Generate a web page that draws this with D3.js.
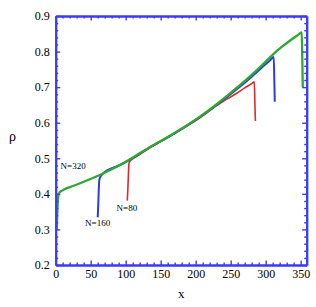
<!DOCTYPE html>
<html>
<head>
<meta charset="utf-8">
<script src="https://cdn.jsdelivr.net/npm/d3@7"></script>
<style>
  body { margin: 0; background: #fff; }
  svg text { font-family: "Times New Roman", "Liberation Serif", serif; }
</style>
</head>
<body>
<svg id="chart"></svg>
<script>
// ---- data ----
const xMajor = [0, 50, 100, 150, 200, 250, 300, 350];
const yMajor = [0.2, 0.3, 0.4, 0.5, 0.6, 0.7, 0.8, 0.9];

// N=320 (green)
const x320 = [1.4, 2.0, 2.8, 3.5, 4.2, 5.5, 8, 11, 16, 25, 40, 63, 87, 111, 135, 160, 182, 206, 230, 255, 278, 295, 311, 323, 335, 345, 351.5, 352.3, 353];
const y320 = [0.298, 0.33, 0.37, 0.39, 0.398, 0.404, 0.408, 0.411, 0.416, 0.422, 0.434, 0.453, 0.476, 0.503, 0.532, 0.56, 0.586, 0.617, 0.652, 0.692, 0.731, 0.762, 0.793, 0.813, 0.831, 0.845, 0.854, 0.78, 0.70];

// N=160 (blue)
const x160 = [60.0, 60.8, 61.5, 62.3, 64, 66, 70.4, 78, 87, 97, 108, 120, 135, 160, 182, 206, 230, 244, 260, 278, 295, 306, 311.5, 312.3, 313];
const y160 = [0.334, 0.37, 0.41, 0.439, 0.448, 0.454, 0.462, 0.470, 0.477, 0.486, 0.498, 0.513, 0.531, 0.559, 0.585, 0.616, 0.650, 0.671, 0.696, 0.726, 0.756, 0.775, 0.785, 0.72, 0.659];

// N=80 (red)
const x80 = [102.3, 103, 103.8, 104.7, 107, 110.9, 115, 120.4, 128, 135, 160, 182, 206, 230, 245, 258, 270, 280, 283.7, 284.5, 285.3];
const y80 = [0.381, 0.41, 0.45, 0.486, 0.494, 0.5, 0.505, 0.511, 0.521, 0.530, 0.558, 0.584, 0.614, 0.648, 0.667, 0.682, 0.698, 0.71, 0.715, 0.66, 0.605];

const series = [
  { name: "N=80", xs: x80, ys: y80, color: "#dd2a2a", width: 1.6 },
  { name: "N=160", xs: x160, ys: y160, color: "#2a3af0", width: 2.0 },
  { name: "N=320", xs: x320, ys: y320, color: "#2ea82e", width: 2.3 }
];

const labels = [
  { text: "N=320", x: 7, y: 0.47 },
  { text: "N=160", x: 42, y: 0.31 },
  { text: "N=80", x: 87, y: 0.353 }
];

// ---- layout ----
const width = 316, height = 307;
const box = { left: 55.7, right: 306.7, top: 16, bottom: 265 };
const axisColor = "#3b3bf5";
const serif = '"Times New Roman", "Liberation Serif", serif';

const svg = d3.select("#chart").attr("width", width).attr("height", height);

const x = d3.scaleLinear().domain([0, 358.6]).range([box.left, box.right]);
const y = d3.scaleLinear().domain([0.2, 0.9]).range([box.bottom, box.top]);

const xMinor = d3.range(0, 359, 10).filter(v => v % 50 !== 0);
const yMinor = d3.range(0.2, 0.9001, 0.02).map(v => +v.toFixed(2)).filter(v => Math.abs(v * 10 - Math.round(v * 10)) > 1e-6);

// curves
const line = d3.line()
  .x(d => x(d[0]))
  .y(d => y(d[1]))
  .curve(d3.curveMonotoneX);

series.forEach(s => {
  svg.append("path")
    .datum(s.xs.map((v, i) => [v, s.ys[i]]))
    .attr("fill", "none")
    .attr("stroke", s.color)
    .attr("stroke-width", s.width)
    .attr("stroke-linejoin", "round")
    .attr("d", line);
});

// axes: major and minor ticks pointing inward on all four sides
function styleAxis(g) {
  g.attr("font-family", serif).attr("font-size", 12);
  g.selectAll("path.domain").attr("stroke", axisColor).attr("stroke-width", 2);
  g.selectAll(".tick line").attr("stroke", axisColor).attr("stroke-width", 1.4);
  g.selectAll(".tick text").attr("fill", "#000");
}

function addAxis(axisFn, scale, transform, values, size, labelled, pad) {
  const ax = axisFn(scale).tickValues(values).tickSizeInner(-size).tickSizeOuter(0);
  if (labelled) ax.tickFormat(d3.format(labelled)).tickPadding(pad);
  else ax.tickFormat("");
  const g = svg.append("g").attr("transform", transform).call(ax);
  styleAxis(g);
  return g;
}

addAxis(d3.axisBottom, x, `translate(0,${box.bottom})`, xMinor, 2.5);
addAxis(d3.axisTop, x, `translate(0,${box.top})`, xMinor, 2.5);
addAxis(d3.axisLeft, y, `translate(${box.left},0)`, yMinor, 2.5);
addAxis(d3.axisRight, y, `translate(${box.right},0)`, yMinor, 2.5);

addAxis(d3.axisBottom, x, `translate(0,${box.bottom})`, xMajor, 4.5, "d", 4);
addAxis(d3.axisTop, x, `translate(0,${box.top})`, xMajor, 4.5);
addAxis(d3.axisLeft, y, `translate(${box.left},0)`, yMajor, 4.5, ".1f", 6);
addAxis(d3.axisRight, y, `translate(${box.right},0)`, yMajor, 4.5);

// series labels
svg.selectAll("text.nlabel")
  .data(labels)
  .enter()
  .append("text")
  .attr("class", "nlabel")
  .attr("x", d => x(d.x))
  .attr("y", d => y(d.y))
  .style("font-size", "9px")
  .style("fill", "#000")
  .text(d => d.text);

// axis titles
svg.append("text")
  .attr("x", 12.5)
  .attr("y", (box.top + box.bottom) / 2)
  .attr("text-anchor", "middle")
  .style("font-size", "14px")
  .text("ρ");

svg.append("text")
  .attr("x", (box.left + box.right) / 2)
  .attr("y", 298)
  .attr("text-anchor", "middle")
  .style("font-size", "13px")
  .text("x");
</script>
</body>
</html>
